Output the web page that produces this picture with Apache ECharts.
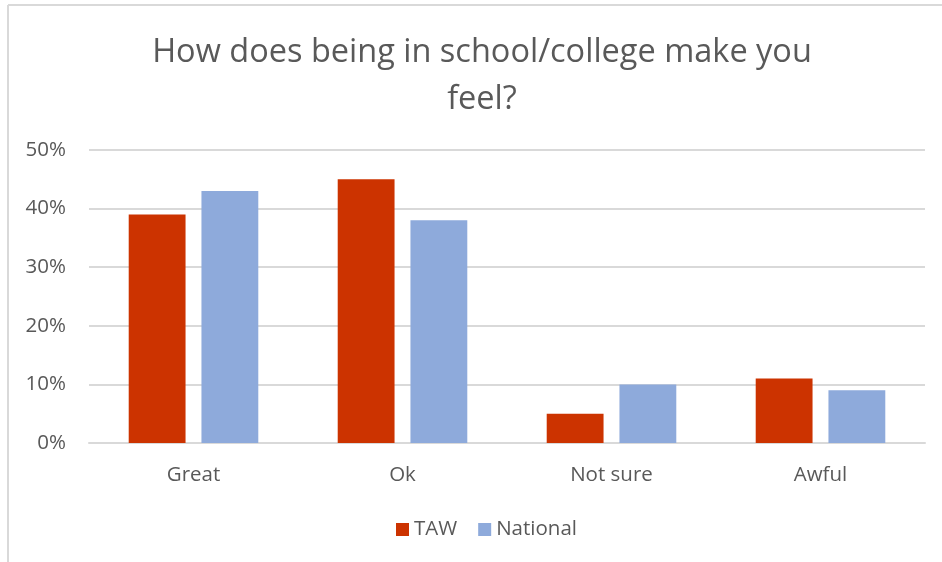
<!DOCTYPE html>
<html>
<head>
<meta charset="utf-8">
<script src="https://cdn.jsdelivr.net/npm/echarts@6/dist/echarts.min.js"></script>
<style>
  html, body { margin: 0; padding: 0; background: #fff; }
  #chart { width: 942px; height: 562px; }
</style>
</head>
<body>
<div id="chart"></div>
<script>
// Survey answers, in percent
const categories = ['Great', 'Ok', 'Not sure', 'Awful'];
const tawValues = [39, 45, 5, 11];
const nationalValues = [43, 38, 10, 9];
const seriesNames = ['TAW', 'National'];
const titleText = 'How does being in school/college make you\nfeel?';

const textGrey = '#595959';
const gridGrey = '#D9D9D9';
const fontFamily = '"Open Sans", "Liberation Sans", sans-serif';

const chart = echarts.init(document.getElementById('chart'), null, { renderer: 'canvas' });

chart.setOption({
  backgroundColor: '#ffffff',
  animation: false,
  title: {
    text: titleText,
    left: 477,
    top: 24,
    textAlign: 'center',
    textStyle: {
      color: textGrey,
      fontFamily: fontFamily,
      fontWeight: 'normal',
      fontSize: 32.5,
      lineHeight: 47
    }
  },
  legend: {
    data: seriesNames,
    bottom: 17,
    left: 391,
    itemWidth: 13,
    itemHeight: 13,
    itemGap: 21,
    icon: 'rect',
    textStyle: { color: textGrey, fontFamily: fontFamily, fontSize: 20.5 }
  },
  grid: { left: 89, right: 17, top: 150, bottom: 119 },
  xAxis: {
    type: 'category',
    data: categories,
    axisLine: { lineStyle: { color: gridGrey, width: 2 } },
    axisTick: { show: false },
    axisLabel: { color: textGrey, fontFamily: fontFamily, fontSize: 20.5, margin: 22 }
  },
  yAxis: {
    type: 'value',
    min: 0,
    max: 50,
    interval: 10,
    axisLine: { show: false },
    axisTick: { show: false },
    splitLine: { lineStyle: { color: gridGrey, width: 2 } },
    axisLabel: {
      color: textGrey, fontFamily: fontFamily, fontSize: 20.5, margin: 23,
      formatter: v => v + '%'
    }
  },
  series: [
    {
      name: seriesNames[0], type: 'bar', data: tawValues,
      itemStyle: { color: '#CC3300' },
      barGap: '28%', barCategoryGap: '38%'
    },
    {
      name: seriesNames[1], type: 'bar', data: nationalValues,
      itemStyle: { color: '#8EAADB' }
    }
  ],
  graphic: [
    { type: 'line', shape: { x1: 8, y1: 5, x2: 8, y2: 562 }, style: { stroke: gridGrey, lineWidth: 2 } },
    { type: 'line', shape: { x1: 8, y1: 5, x2: 942, y2: 5 }, style: { stroke: gridGrey, lineWidth: 2 } }
  ]
});
</script>
</body>
</html>
